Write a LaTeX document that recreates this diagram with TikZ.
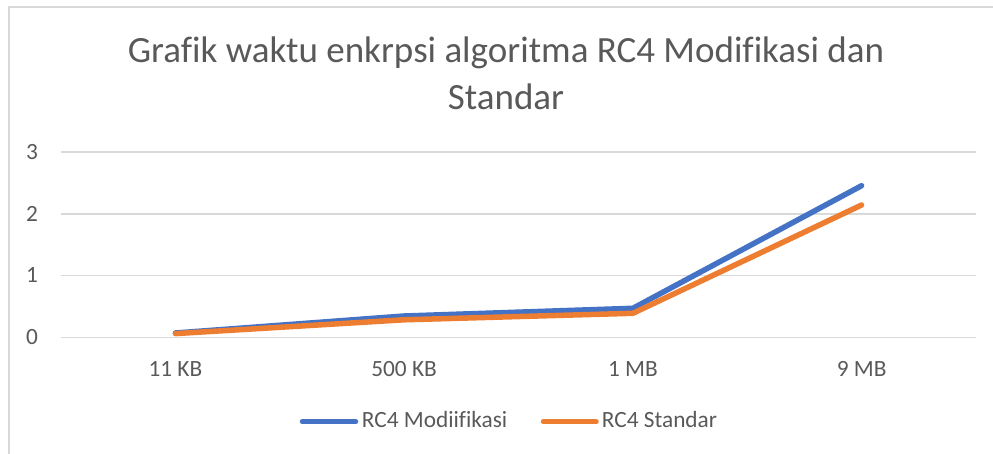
\documentclass[tikz,border=0pt]{standalone}
\usepackage{fontspec}
\setmainfont{Carlito}[Ligatures=NoCommon]
\definecolor{txt}{HTML}{595959}
\definecolor{grid}{HTML}{D9D9D9}
\definecolor{frame}{HTML}{D9D9D9}
\definecolor{blueS}{HTML}{4472C4}
\definecolor{orangeS}{HTML}{ED7D31}
\begin{document}
\begin{tikzpicture}[x=1pt,y=-1pt,
  gridline/.style={draw=grid,line width=1.4pt},
  series/.style={line width=5.5pt,line cap=round,line join=round},
  ticklbl/.style={text=txt,font=\fontsize{23.3}{27}\selectfont,inner sep=0pt},
  titlelbl/.style={text=txt,font=\fontsize{37}{47}\selectfont,inner sep=0pt,align=center},
  pt/.style={inner sep=0pt,minimum size=0pt}]
\useasboundingbox (0,0) rectangle (993,454);
% frame (cropped at right and bottom)
\draw[draw=frame,line width=1.4pt] (9,454) -- (9,7) -- (993,7);
% title
\node[titlelbl,anchor=base] (t1) at (506,62.7) {Grafik waktu enkrpsi algoritma RC4 Modifikasi dan};
\node[titlelbl,anchor=base] (t2) at (506,109.5) {Standar};
% grid lines and y labels
\foreach \v/\y in {0/337.3,1/275.6,2/213.9,3/152.2}{
  \draw[gridline] (61,\y) -- (976,\y);
  \node[ticklbl,anchor=base] (y\v) at (32,\y+7.2) {\v};
}
% x labels
\node[ticklbl,anchor=base] (x1) at (175.4,376) {11 KB};
\node[ticklbl,anchor=base] (x2) at (404.1,376) {500 KB};
\node[ticklbl,anchor=base] (x3) at (632.9,376) {1 MB};
\node[ticklbl,anchor=base] (x4) at (861.6,376) {9 MB};
% data points
\coordinate (b1) at (175.4,333.0);
\coordinate (b2) at (404.1,316.0);
\coordinate (b3) at (632.9,308.3);
\coordinate (b4) at (861.6,185.7);
\coordinate (o1) at (175.4,333.6);
\coordinate (o2) at (404.1,319.8);
\coordinate (o3) at (632.9,313.3);
\coordinate (o4) at (861.6,205.0);
\draw[series,blueS] (b1) -- (b2) -- (b3) -- (b4);
\draw[series,orangeS] (o1) -- (o2) -- (o3) -- (o4);
% legend
\coordinate (lb1) at (302.5,421.7);
\coordinate (lb2) at (355.5,421.7);
\coordinate (lo1) at (543.5,421.7);
\coordinate (lo2) at (596,421.7);
\draw[series,blueS] (lb1) -- (lb2);
\draw[series,orangeS] (lo1) -- (lo2);
\node[ticklbl,anchor=base west] (lbt) at (361.7,427.3) {RC4 Modiifikasi};
\node[ticklbl,anchor=base west] (lot) at (601.7,427.3) {RC4 Standar};
\end{tikzpicture}
\end{document}
